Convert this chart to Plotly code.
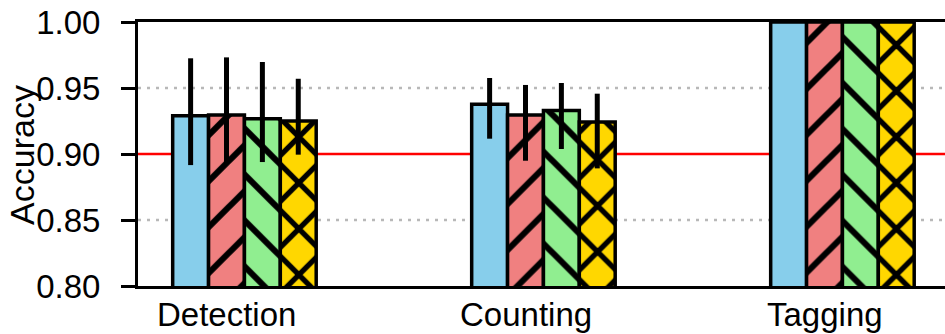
import plotly.graph_objects as go

# Task categories on the x axis
categories = ["Detection", "Counting", "Tagging"]

# Mean accuracy for each of the four configurations
series_names = ["A", "B", "C", "D"]
acc_a = [0.929, 0.9376, 1.00]
acc_b = [0.9295, 0.9295, 1.00]
acc_c = [0.9267, 0.933, 1.00]
acc_d = [0.925, 0.9242, 1.00]

# Error bar extents (above / below the mean)
err_up_a = [0.0435, 0.0200, 0.0]
err_dn_a = [0.0374, 0.0260, 0.0]
err_up_b = [0.0437, 0.0228, 0.0]
err_dn_b = [0.0361, 0.0346, 0.0]
err_up_c = [0.0430, 0.0208, 0.0]
err_dn_c = [0.0328, 0.0292, 0.0]
err_up_d = [0.0320, 0.0215, 0.0]
err_dn_d = [0.0255, 0.0351, 0.0]

# Reference accuracy threshold
threshold = 0.90

y_ticks = [0.80, 0.85, 0.90, 0.95, 1.00]

FONT = "Liberation Sans, Arial, Helvetica, sans-serif"
colors = ["#87CEEB", "#F08080", "#90EE90", "#FFD700"]
hatches = ["", "/", "\\", "x"]
hatch_solidity = [0.1, 0.19, 0.19, 0.3]
bar_w = 0.12
offsets = [-0.18, -0.06, 0.06, 0.18]

values = [acc_a, acc_b, acc_c, acc_d]
ups = [err_up_a, err_up_b, err_up_c, err_up_d]
downs = [err_dn_a, err_dn_b, err_dn_c, err_dn_d]

fig = go.Figure()
for name, vals, up, dn, col, hatch, sol, off in zip(
        series_names, values, ups, downs, colors, hatches, hatch_solidity, offsets):
    fig.add_trace(go.Bar(
        name=name,
        x=categories,
        y=vals,
        width=bar_w,
        offset=off,
        marker=dict(
            color=col,
            line=dict(color="black", width=3.5),
            pattern=dict(shape=hatch, fillmode="replace", bgcolor=col,
                         fgcolor="black", size=32.5, solidity=sol),
        ),
        error_y=dict(type="data", symmetric=False, array=up, arrayminus=dn,
                     color="black", thickness=5, width=0),
        showlegend=False,
    ))

# dotted horizontal grid at the interior ticks (threshold line covers 0.90)
for yv in y_ticks[1:-1]:
    if yv == threshold:
        continue
    fig.add_shape(type="line", xref="paper", x0=0, x1=1, yref="y",
                  y0=yv, y1=yv, layer="below",
                  line=dict(color="#b8b8b8", width=2.5, dash="3px,6px"))

fig.add_shape(type="line", xref="paper", x0=0, x1=1, yref="y",
              y0=threshold, y1=threshold, line=dict(color="red", width=2.5),
              layer="below")

# category labels placed just under the axis
for cat in categories:
    fig.add_annotation(text=cat, x=cat, xref="x", y=-0.108, yref="paper",
                       xanchor="center", yanchor="middle", showarrow=False,
                       font=dict(family=FONT, size=33, color="black"))

fig.add_annotation(text="Accuracy", xref="paper", yref="paper",
                   x=-0.143, y=0.495, xanchor="center", yanchor="middle",
                   textangle=-90, showarrow=False,
                   font=dict(family=FONT, size=34, color="black"))

fig.update_layout(
    width=945, height=334,
    margin=dict(l=138, r=0, t=22, b=48),
    barmode="overlay",
    plot_bgcolor="white", paper_bgcolor="white",
    font=dict(family=FONT, size=33, color="black"),
    xaxis=dict(
        type="category",
        range=[-0.296, 2.403],
        showline=True, linecolor="black", linewidth=3, mirror=True,
        ticks="", showgrid=False, zeroline=False, automargin=False,
        showticklabels=False,
    ),
    yaxis=dict(
        range=[0.80, 1.00],
        tickvals=y_ticks, tickformat=".2f",
        showline=True, linecolor="black", linewidth=3, mirror=False,
        ticks="outside", ticklen=14, tickwidth=3, tickcolor="black",
        showgrid=False, zeroline=False, automargin=False,
        tickfont=dict(family=FONT, size=33, color="black"),
        ticklabelstandoff=14,
    ),
)

fig.write_html("out.html")
